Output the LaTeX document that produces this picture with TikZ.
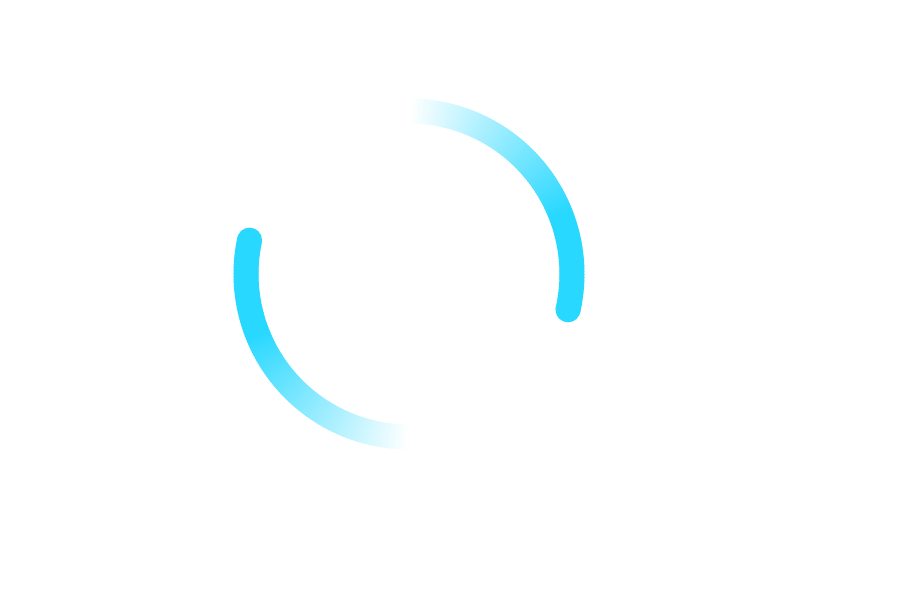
\documentclass[tikz,border=0pt]{standalone}
\usepackage{tikz}
\usetikzlibrary{calc}
\definecolor{spincyan}{RGB}{40,216,255}
\begin{document}
\begin{tikzpicture}[x=1pt,y=-1pt]
      \useasboundingbox (0,0) rectangle (900,594);
      \coordinate (O) at (409,274);
      % upper right arc, fading in from the top
      \foreach \a in {90,89,...,-12}{
        \pgfmathsetmacro{\f}{min(100,max(0,(90-\a)/68*100))}
        \draw[line width=25pt,spincyan!\f!white] ($(O)+(-\a:163)$) arc (-\a:-\a+1.3:163);
      }
      \fill[spincyan] ($(O)+(12.7:163)$) circle (12.5);
      % lower left arc, fading in from the bottom
      \foreach \a in {270,269,...,169}{
        \pgfmathsetmacro{\f}{min(100,max(0,(270-\a)/68*100))}
        \draw[line width=25pt,spincyan!\f!white] ($(O)+(-\a:163)$) arc (-\a:-\a+1.3:163);
      }
      \fill[spincyan] ($(O)+(-168:163)$) circle (12.5);
\end{tikzpicture}
\end{document}
